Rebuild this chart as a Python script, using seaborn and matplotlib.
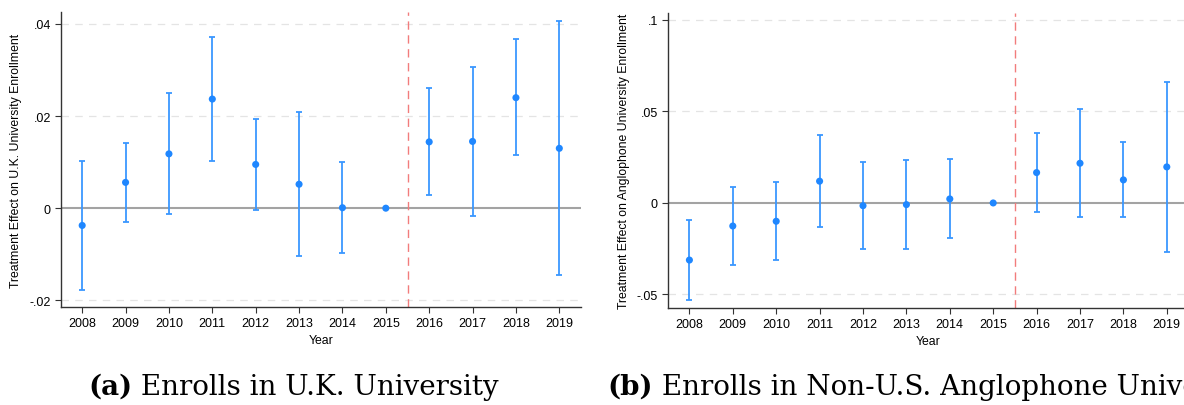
import matplotlib
matplotlib.use("Agg")
import matplotlib.pyplot as plt
import seaborn as sns
import numpy as np
import pandas as pd

years = [2008, 2009, 2010, 2011, 2012, 2013, 2014, 2015, 2016, 2017, 2018, 2019]

# Panel (a): enrollment in a U.K. university
uk_coef = [-0.00375, 0.0056, 0.0118, 0.0237, 0.0095, 0.0052, 0.0001, 0.0, 0.0144, 0.0145, 0.0240, 0.0130]
uk_lo = [-0.0177, -0.0030, -0.0013, 0.0103, -0.0004, -0.0104, -0.0098, 0.0, 0.0029, -0.0016, 0.0115, -0.0146]
uk_hi = [0.0102, 0.0142, 0.0250, 0.0372, 0.0194, 0.0208, 0.0100, 0.0, 0.0261, 0.0307, 0.0367, 0.0407]

# Panel (b): enrollment in a non-U.S. anglophone university
ang_coef = [-0.0312, -0.0126, -0.0100, 0.0119, -0.0015, -0.0009, 0.0022, 0.0, 0.0166, 0.0217, 0.0126, 0.0197]
ang_lo = [-0.0529, -0.0338, -0.0314, -0.0133, -0.0250, -0.0250, -0.0192, 0.0, -0.0051, -0.0075, -0.0078, -0.0266]
ang_hi = [-0.0095, 0.0088, 0.0115, 0.0372, 0.0223, 0.0235, 0.0239, 0.0, 0.0383, 0.0515, 0.0332, 0.0661]

uk_ticks = [-0.02, 0, 0.02, 0.04]
uk_ticklabels = ["-.02", "0", ".02", ".04"]
ang_ticks = [-0.05, 0, 0.05, 0.1]
ang_ticklabels = ["-.05", "0", ".05", ".1"]

ylabels = ["Treatment Effect on U.K. University Enrollment",
           "Treatment Effect on Anglophone University Enrollment"]
captions = [("(a)", "Enrolls in U.K. University"),
            ("(b)", "Enrolls in Non-U.S. Anglophone University")]

sns.set_theme(style="white")
plt.rcParams["font.family"] = ["Liberation Sans", "DejaVu Sans"]
plt.rcParams["text.color"] = "black"

W, H = 1184, 406
fig = plt.figure(figsize=(W / 100, H / 100), dpi=100)

def px_rect(x0, x1, ytop, ybot):
    return [x0 / W, 1 - ybot / H, (x1 - x0) / W, (ybot - ytop) / H]

ax_a = fig.add_axes(px_rect(60.5, 581, 13.3, 308))
ax_b = fig.add_axes(px_rect(667.7, 667.7 + 12 * 43.4, 14, 309))

marker_col = "#1f87ff"
bar_col = "#3a97ff"

panels = [
    (ax_a, uk_coef, uk_lo, uk_hi, uk_ticks, uk_ticklabels, (-0.02146, 0.04254)),
    (ax_b, ang_coef, ang_lo, ang_hi, ang_ticks, ang_ticklabels, (-0.0574, 0.1038)),
]

for i, (ax, coef, lo, hi, ticks, tlabels, ylim) in enumerate(panels):
    df = pd.DataFrame({"Year": years, "coef": coef, "lo": lo, "hi": hi})
    for t in ticks:
        if t != 0:
            ax.axhline(t, color="#e4e4e4", lw=0.9, ls=(0, (6, 5)), zorder=0)
    ax.axhline(0, color="#a3a3a3", lw=1.5, zorder=1)
    ax.axvline(2015.5, color="#f27c7c", lw=1.0, ls=(0, (6, 4)), zorder=1)
    ax.errorbar(df["Year"], df["coef"],
                yerr=[df["coef"] - df["lo"], df["hi"] - df["coef"]],
                fmt="none", ecolor=bar_col, elinewidth=1.3, capsize=2,
                capthick=1.3, zorder=2)
    sns.scatterplot(data=df, x="Year", y="coef", ax=ax, color=marker_col,
                    s=26, edgecolor="none", zorder=3, legend=False)
    ax.set_xlim(2007.5, 2019.5)
    ax.set_ylim(*ylim)
    ax.set_xticks(years)
    ax.set_xticklabels([str(y) for y in years], fontsize=9)
    ax.set_yticks(ticks)
    ax.set_yticklabels(tlabels, fontsize=9)
    ax.set_xlabel("Year", fontsize=8.8, labelpad=4, color="black")
    ax.set_ylabel(ylabels[i], fontsize=8.8, labelpad=5, color="black")
    for side in ["top", "right"]:
        ax.spines[side].set_visible(False)
    for side in ["left", "bottom"]:
        ax.spines[side].set_color("#333333")
        ax.spines[side].set_linewidth(1.0)
    ax.tick_params(axis="both", which="major", direction="out", length=4,
                   width=0.8, color="#333333", labelcolor="black", pad=3,
                   left=True, bottom=True)
    ax.grid(False)

# Sub-figure captions with bold panel letters
cap_x = [88 / W, 607 / W]
for (letter, text), x in zip(captions, cap_x):
    t1 = fig.text(x, 1 - 395 / H, letter, fontsize=20, fontweight="bold",
                  family=["DejaVu Serif"], va="baseline", ha="left",
                  color="black")
    fig.add_artist(plt.Annotation(" " + text, xy=(1, 0), xycoords=t1,
                                  fontsize=20, family=["DejaVu Serif"],
                                  va="bottom", ha="left", color="black",
                                  annotation_clip=False))

fig.savefig("out.png", dpi=100)
